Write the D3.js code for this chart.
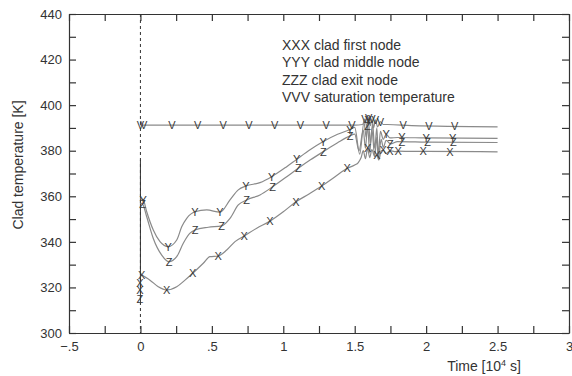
<!DOCTYPE html>
<html>
<head>
<meta charset="utf-8">
<script src="https://cdn.jsdelivr.net/npm/d3@7"></script>
<style>
  body { margin: 0; background: #fff; }
  svg { font-family: "Liberation Sans", Arial, sans-serif; }
</style>
</head>
<body>
<div id="chart"></div>
<script>
// axis ticks
const xMinorTicks = [-0.5, -0.25, 0, 0.25, 0.5, 0.75, 1, 1.25, 1.5, 1.75, 2, 2.25, 2.5, 2.75, 3];
const xTicks = [-0.5, 0, 0.5, 1, 1.5, 2, 2.5, 3];
const xTickLabels = ['\u2212.5', '0', '.5', '1', '1.5', '2', '2.5', '3'];
const yMinorTicks = [300, 310, 320, 330, 340, 350, 360, 370, 380, 390, 400, 410, 420, 430, 440];
const yTicks = [300, 320, 340, 360, 380, 400, 420, 440];

const legendLabels = [
  'XXX clad first node',
  'YYY clad middle node',
  'ZZZ clad exit node',
  'VVV saturation temperature'
];

// time [10^4 s], temperature [K]
const firstNode = [[0.009,325.5],[0.04,324.3],[0.067,323.2],[0.125,320.3],[0.184,318.9],[0.254,320.3],[0.312,323.2],[0.366,326.2],[0.44,330.6],[0.487,333.5],[0.545,333.8],[0.604,336.4],[0.662,340.1],[0.727,342.6],[0.814,346.0],[0.907,349.1],[1.0,353.2],[1.089,357.6],[1.18,361],[1.269,364.5],[1.36,368.5],[1.448,372.3],[1.50,373.7],[1.525,374.8],[1.545,377],[1.56,380],[1.575,376.5],[1.59,381],[1.605,377],[1.62,380.5],[1.64,377.5],[1.655,378],[1.67,376],[1.685,380],[1.70,380.2],[1.72,378.8],[1.747,380],[1.78,379.6],[1.805,379.8],[1.9,379.7],[2.0,379.7],[2.5,379.5]];
const firstNodeMarks = [[-0.004,322],[-0.004,319],[0.009,325.5],[0.184,318.9],[0.366,326.2],[0.545,333.8],[0.727,342.6],[0.907,349.1],[1.089,357.6],[1.269,364.5],[1.448,372.3],[1.59,381],[1.655,378],[1.70,380.2],[1.747,380],[1.805,379.8],[1.98,379.7],[2.167,379.6]];

const middleNode = [[0.0,359],[0.02,358.4],[0.044,353.2],[0.09,345.2],[0.137,340.1],[0.195,337.9],[0.254,340.8],[0.289,346.6],[0.324,350.3],[0.382,353.2],[0.464,354],[0.557,353],[0.627,358.4],[0.685,362.8],[0.739,364.5],[0.837,366],[0.919,368.6],[1.024,373],[1.094,376.2],[1.19,380.5],[1.28,384],[1.38,387.2],[1.467,389.3],[1.50,390.2],[1.535,378.5],[1.565,392.5],[1.58,386],[1.595,393.5],[1.61,383],[1.625,392],[1.64,381],[1.655,390],[1.665,378],[1.68,388.5],[1.70,385],[1.72,387.2],[1.747,385.6],[1.8,385.8],[2.0,385.6],[2.5,385.4]];
const middleNodeMarks = [[0.02,358.4],[0.195,337.9],[0.382,353.2],[0.557,353],[0.739,364.5],[0.919,368.6],[1.094,376.2],[1.28,384],[1.467,389.3],[1.595,393.5],[1.72,387.2],[1.83,385.8],[2.0,385.6],[2.185,385.5]];

const exitNode = [[0.0,357],[0.016,356.5],[0.044,351],[0.09,341.5],[0.149,334.2],[0.2,331.3],[0.254,333.5],[0.3,339.4],[0.347,343.8],[0.382,345.2],[0.475,346.4],[0.569,347],[0.627,350.3],[0.685,356.2],[0.744,358.4],[0.837,360.6],[0.926,364.2],[1.024,368.6],[1.105,372.3],[1.19,376],[1.28,379.6],[1.38,383.5],[1.467,386.5],[1.50,387.3],[1.53,380],[1.56,389],[1.575,381],[1.59,391],[1.605,379],[1.62,389.5],[1.64,377.5],[1.655,386],[1.665,376],[1.685,385],[1.70,381.5],[1.72,384.5],[1.75,383],[1.8,384],[2.0,383.8],[2.5,383.6]];
const exitNodeMarks = [[-0.004,315],[0.016,356.5],[0.2,331.3],[0.382,345.2],[0.569,347],[0.744,358.4],[0.926,364.2],[1.105,372.3],[1.28,379.6],[1.467,386.5],[1.59,391],[1.75,383],[1.83,384],[2.01,383.8],[2.19,383.7]];

const saturation = [[0,391.2],[1.50,391.2],[1.555,391.5],[1.572,394],[1.585,390.5],[1.597,394.5],[1.61,391],[1.62,394],[1.632,390],[1.645,393.5],[1.66,390.5],[1.68,392.8],[1.70,391.5],[1.73,391.5],[1.9,391],[2.5,390.5]];
const saturationMarks = [[0,391.2],[0.022,391.2],[0.22,391.2],[0.40,391.2],[0.58,391.2],[0.76,391.2],[0.94,391.2],[1.12,391.2],[1.30,391.2],[1.48,391.2],[1.572,394],[1.597,394.5],[1.62,394],[1.645,393.5],[1.68,392.8],[1.84,391.2],[2.02,390.9],[2.2,390.8]];

// vertical start transient at t = 0
const startDrop = [[0,376],[0,313]];

const series = [
  { line: firstNode, marks: firstNodeMarks, glyph: 'X' },
  { line: middleNode, marks: middleNodeMarks, glyph: 'Y' },
  { line: exitNode, marks: exitNodeMarks, glyph: 'Z' },
  { line: saturation, marks: saturationMarks, glyph: 'V' }
];

const w = 572, h = 376;
const plotLeft = 69, plotRight = 569, plotTop = 14, plotBottom = 333;
const ink = '#333';

const svg = d3.select('#chart')
  .append('svg')
  .attr('width', w)
  .attr('height', h);

const xScale = d3.scaleLinear().domain([-0.5, 3]).range([plotLeft, plotRight]);
const yScale = d3.scaleLinear().domain([300, 440]).range([plotBottom, plotTop]);

const fmtX = d => xTickLabels[xTicks.indexOf(d)] || '';
const fmtY = d => yTicks.includes(d) ? d : '';

// frame + inward ticks on all four sides
svg.append('g')
  .attr('transform', 'translate(0,' + plotBottom + ')')
  .call(d3.axisBottom(xScale).tickValues(xMinorTicks).tickFormat(fmtX).tickSizeInner(-7).tickSizeOuter(0).tickPadding(9));
svg.append('g')
  .attr('transform', 'translate(0,' + plotTop + ')')
  .call(d3.axisTop(xScale).tickValues(xMinorTicks).tickFormat('').tickSizeInner(-7).tickSizeOuter(0));
svg.append('g')
  .attr('transform', 'translate(' + plotLeft + ',0)')
  .call(d3.axisLeft(yScale).tickValues(yMinorTicks).tickFormat(fmtY).tickSizeInner(-7).tickSizeOuter(0).tickPadding(7));
svg.append('g')
  .attr('transform', 'translate(' + plotRight + ',0)')
  .call(d3.axisRight(yScale).tickValues(yMinorTicks).tickFormat('').tickSizeInner(-7).tickSizeOuter(0));

svg.selectAll('.domain, .tick line')
  .attr('stroke', ink)
  .attr('stroke-width', 1.2);
svg.selectAll('.tick text')
  .attr('fill', ink)
  .style('font-size', '13px')
  .style('font-family', '"Liberation Sans", Arial, sans-serif');

// dashed reference line at t = 0
svg.append('line')
  .attr('x1', xScale(0)).attr('x2', xScale(0))
  .attr('y1', yScale(440)).attr('y2', yScale(300))
  .attr('stroke', ink)
  .attr('stroke-width', 1)
  .attr('stroke-dasharray', '3,3');

svg.append('path')
  .attr('d', d3.line().x(d => xScale(d[0])).y(d => yScale(d[1]))(startDrop))
  .attr('fill', 'none')
  .attr('stroke', ink)
  .attr('stroke-width', 1);

const line = d3.line()
  .x(d => xScale(d[0]))
  .y(d => yScale(d[1]))
  .curve(d3.curveMonotoneX);

series.forEach(s => {
  svg.append('path')
    .attr('d', line(s.line))
    .attr('fill', 'none')
    .attr('stroke', '#8a8a8a')
    .attr('stroke-width', 1.2);
});

series.forEach(s => {
  svg.append('g')
    .selectAll('text')
    .data(s.marks)
    .enter()
    .append('text')
    .attr('x', d => xScale(d[0]))
    .attr('y', d => yScale(d[1]))
    .attr('text-anchor', 'middle')
    .attr('dominant-baseline', 'central')
    .attr('fill', '#3a3a3a')
    .style('font-size', '11px')
    .text(s.glyph);
});

// legend
svg.append('g')
  .selectAll('text')
  .data(legendLabels)
  .enter()
  .append('text')
  .attr('x', 282)
  .attr('y', (d, i) => 50 + i * 17.3)
  .attr('fill', ink)
  .style('font-size', '14px')
  .text(d => d);

// axis titles
const xTitle = svg.append('text')
  .attr('x', 484)
  .attr('y', 371)
  .attr('text-anchor', 'middle')
  .attr('fill', ink)
  .style('font-size', '14px');
xTitle.append('tspan').text('Time [10');
xTitle.append('tspan').attr('dy', -5).style('font-size', '9px').text('4');
xTitle.append('tspan').attr('dy', 5).text(' s]');

svg.append('text')
  .attr('transform', 'translate(18,165) rotate(-90)')
  .attr('text-anchor', 'middle')
  .attr('dominant-baseline', 'central')
  .attr('fill', ink)
  .style('font-size', '14px')
  .text('Clad temperature [K]');
</script>
</body>
</html>
